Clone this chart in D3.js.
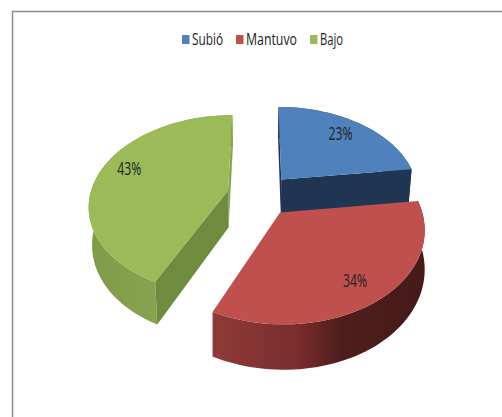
<!DOCTYPE html>
<html>
<head>
<meta charset="utf-8">
<script src="https://cdnjs.cloudflare.com/ajax/libs/d3/7.8.5/d3.min.js"></script>
<style>
  html, body { margin: 0; padding: 0; background: #fff; }
  svg { display: block; }
  text { font-family: "Open Sans", sans-serif; fill: #222; }
</style>
</head>
<body>
<div id="chart"></div>
<script>
// Values
const categories = ["Subió", "Mantuvo", "Bajo"];
const percents = [23, 34, 43];

const width = 502;
const height = 417;

// Projection of the tilted pie, fitted by eye
const cx = 260, cy = 195;
const radius = 138;
const explode = 33;
const tilt = 0.64;
const viewDist = 889;
const depth = 37;
const bottomShrink = 0.98;

const topColor = ["#4f81bd", "#c0504d", "#9bbb59"];
const cutColor = ["#1f3552", "#7a2f2d", "#6f8b3e"];
const stripColor = ["#1f3552", "#7a2f2d", "#8aa651"];
const wallStops = [
    [[0, "#2a4a70"], [1, "#1f3552"]],
    [[0, "#8e3b39"], [0.4, "#7a2d2b"], [0.6, "#4e1e1c"], [1, "#451a18"]],
    [[0, "#7f9b48"], [0.6, "#8aa651"], [1, "#6d8a3c"]]
];

const svg = d3.select("#chart").append("svg")
    .attr("width", width)
    .attr("height", height);

// Chart frame
svg.append("path")
    .attr("d", `M12.5,${height}V11.5H${width}`)
    .attr("fill", "none")
    .attr("stroke", "#8c8c8c")
    .attr("stroke-width", 1.5);

const pie = d3.pie().value(d => d).sort(null);
const slices = pie(percents);

// plane point -> screen, level 0 = top face, 1 = bottom face
function project(X, U, level, shrink = 1) {
    const f = 1 / (1 + U / viewDist);
    return [cx + X * f * shrink, cy - tilt * U * f + level * depth * f];
}

function apex(d, level, shrink) {
    const mid = (d.startAngle + d.endAngle) / 2;
    return project(explode * Math.sin(mid), explode * Math.cos(mid), level, shrink);
}

function rim(d, a, level, shrink) {
    const mid = (d.startAngle + d.endAngle) / 2;
    return project(explode * Math.sin(mid) + radius * Math.sin(a),
                   explode * Math.cos(mid) + radius * Math.cos(a), level, shrink);
}

function arcAngles(d) {
    const n = 60;
    return d3.range(n + 1).map(i => d.startAngle + (d.endAngle - d.startAngle) * i / n);
}

const line = d3.line();
const defs = svg.append("defs");

slices.forEach((d, i) => {
    const g = defs.append("linearGradient")
        .attr("id", "wall" + i)
        .attr("x1", 0).attr("x2", 1).attr("y1", 0).attr("y2", 0);
    wallStops[i].forEach(s => {
        g.append("stop").attr("offset", s[0]).attr("stop-color", s[1]);
    });
});

function cutFace(g, d, a, fill) {
    g.append("path")
        .attr("d", line([apex(d, 0), rim(d, a, 0), rim(d, a, 1, bottomShrink), apex(d, 1, bottomShrink)]) + "Z")
        .attr("fill", fill);
}

// back to front so red sits over the foot of blue
const order = [0, 2, 1];
order.forEach(i => {
    const d = slices[i];
    const angles = arcAngles(d);
    const g = svg.append("g");
    const wallShrink = i === 1 ? 1 : bottomShrink;

    // outer wall
    g.append("path")
        .attr("d", line(angles.map(a => rim(d, a, 0)).concat(angles.slice().reverse().map(a => rim(d, a, 1, wallShrink)))) + "Z")
        .attr("fill", `url(#wall${i})`);

    // cut faces: blue shows its end edge, green its start edge, red neither
    if (i === 0) {
        cutFace(g, d, d.startAngle, stripColor[i]);
        cutFace(g, d, d.endAngle, cutColor[i]);
    } else if (i === 2) {
        cutFace(g, d, d.endAngle, stripColor[i]);
        cutFace(g, d, d.startAngle, cutColor[i]);
    }

    // top face
    g.append("path")
        .attr("d", line([apex(d, 0)].concat(angles.map(a => rim(d, a, 0)))) + "Z")
        .attr("fill", topColor[i]);
});

// Percent labels, fractions of the radius along x and along the depth axis
const labelAt = [[0.75, 0.8], [0.78, 0.8], [0.78, 1.23]];
const labelSize = 18, labelWidth = 24;
slices.forEach((d, i) => {
    const a = (d.startAngle + d.endAngle) / 2;
    const p = project(explode * Math.sin(a) + radius * labelAt[i][0] * Math.sin(a),
                      explode * Math.cos(a) + radius * labelAt[i][1] * Math.cos(a), 0);
    svg.append("text")
        .attr("x", p[0])
        .attr("y", p[1] + 6.5)
        .attr("text-anchor", "middle")
        .attr("font-size", labelSize)
        .attr("textLength", labelWidth)
        .attr("lengthAdjust", "spacingAndGlyphs")
        .text(percents[i] + "%");
});

// Legend
const legendX = d3.scaleOrdinal().domain(categories).range([182, 236, 310]);
const legendTextWidth = d3.scaleOrdinal().domain(categories).range([31, 51, 23]);
const legendGap = 10;
const legend = svg.selectAll(".legend").data(categories).enter().append("g")
    .attr("class", "legend")
    .attr("transform", d => `translate(${legendX(d)},0)`);
legend.append("rect")
    .attr("y", 35)
    .attr("width", 7.5)
    .attr("height", 9)
    .attr("fill", (d, i) => topColor[i]);
legend.append("text")
    .attr("x", legendGap)
    .attr("y", 45)
    .attr("font-size", 17)
    .attr("textLength", d => legendTextWidth(d))
    .attr("lengthAdjust", "spacingAndGlyphs")
    .text(d => d);
</script>
</body>
</html>
